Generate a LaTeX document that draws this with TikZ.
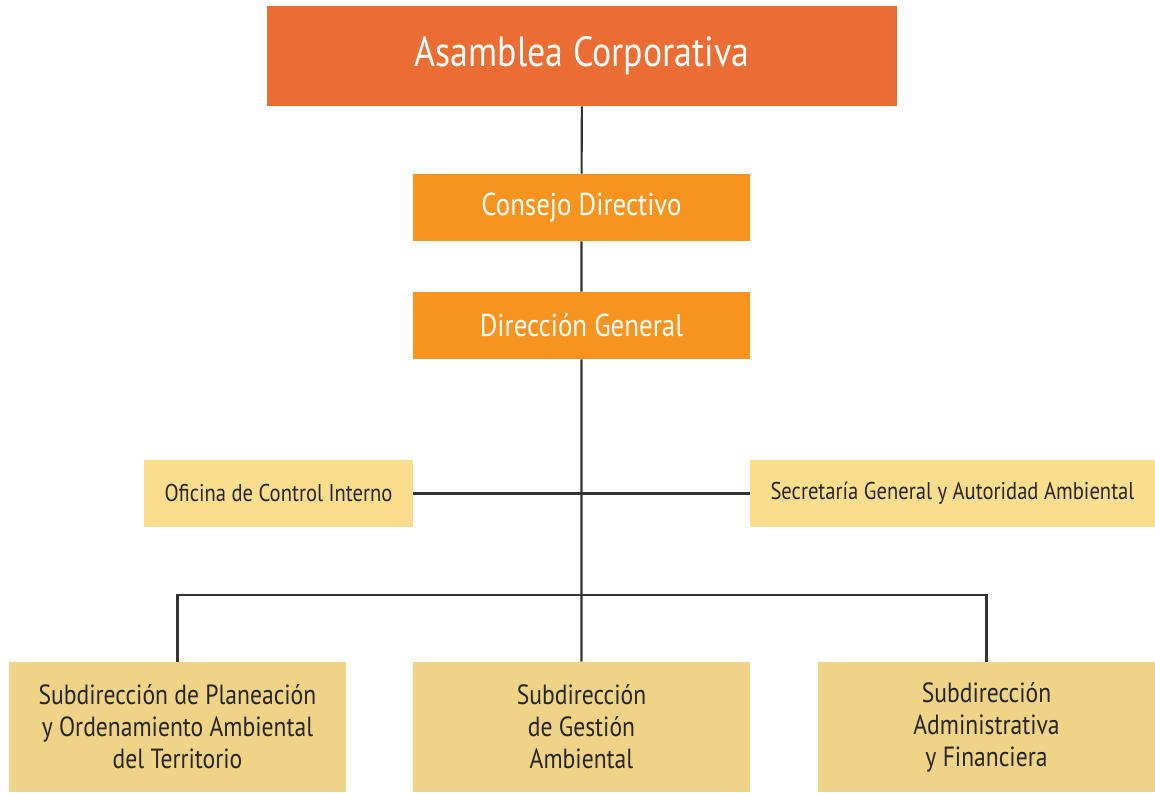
\documentclass[tikz,border=0pt]{standalone}
\usepackage{fontspec}
\setmainfont[FakeStretch=0.85]{PT Sans}
\definecolor{asamb}{HTML}{EA6D33}
\definecolor{direc}{HTML}{F7941F}
\definecolor{staffc}{HTML}{FADD8D}
\definecolor{subc}{HTML}{EFD386}
\definecolor{linec}{HTML}{333333}
\tikzset{
		asamblea/.style={
			rectangle, minimum width=12.6cm, minimum height=2cm, inner sep=0pt, fill=asamb, text=white, font=\fontsize{24}{29}\selectfont},
		directivo/.style={
			rectangle, minimum width=6.74cm, minimum height=1.34cm, inner sep=0pt, fill=direc, text=white, font=\fontsize{18}{21}\selectfont},
		staff/.style={
			rectangle, minimum height=1.34cm, inner sep=0pt, fill=staffc, text=black!85, font=\fontsize{13.8}{16}\selectfont},
		subdir/.style={
			rectangle, minimum width=6.74cm, minimum height=2.6cm, inner sep=0pt, fill=subc, text=black!85, align=center, font=\fontsize{15.8}{18.2}\selectfont},
		edge/.style={draw,line width=1.2pt,-,linec},
	}
\def\bary{-11.9}

\begin{document}
\begin{tikzpicture}
			\useasboundingbox (0,0) rectangle (23.1,-15.84);
			\node[asamblea] (asam) at (11.64,-1.12) {Asamblea Corporativa};
			\node[directivo] (cons) at (11.63,-4.15) {Consejo Directivo};
			\node[directivo] (dirg) at (11.63,-6.51) {Dirección General};
			\node[staff, minimum width=5.38cm] (ofic) at (5.57,-9.87) {Oficina de Control Interno};
			\node[staff, minimum width=8.1cm] (secr) at (19.05,-9.87) {Secretaría General y Autoridad Ambiental};
			\node[subdir] (plan) at (3.55,-14.54) {Subdirección de Planeación\\y Ordenamiento Ambiental\\del Territorio};
			\node[subdir] (gest) at (11.63,-14.54) {Subdirección\\de Gestión\\Ambiental};
			\node[subdir] (admi) at (19.73,-14.54) {Subdirección\\Administrativa\\y Financiera};
			\coordinate (bar) at (11.63,\bary);
			\draw[edge] (asam) -- (cons) -- (dirg) -- (gest);
			\draw[edge] (ofic) -- (secr);
			\draw[edge] (plan.north) |- (bar) -| (admi.north);
			\end{tikzpicture}
\end{document}
